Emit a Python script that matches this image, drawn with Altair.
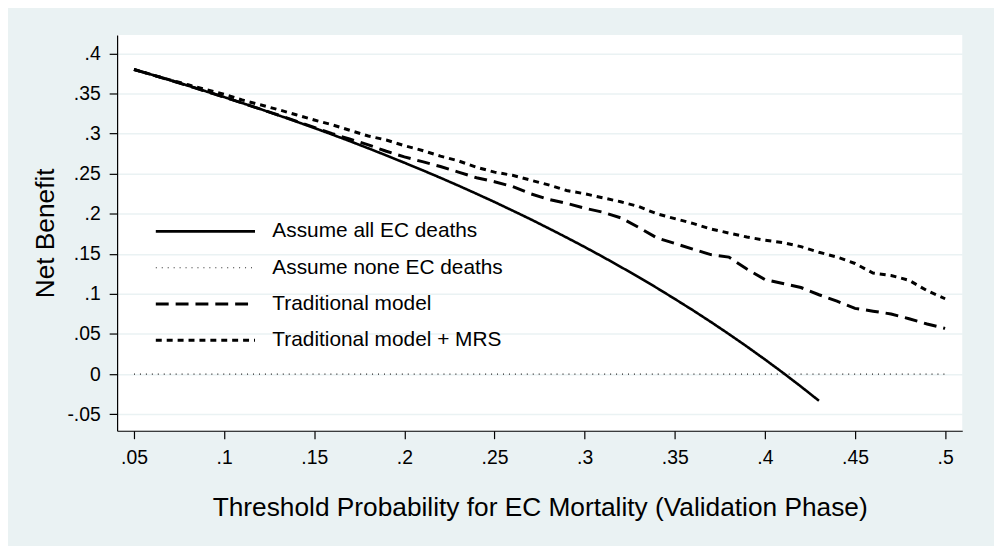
import altair as alt
import pandas as pd

# Threshold probabilities (x)
thresholds = [0.05, 0.06, 0.07, 0.08, 0.09, 0.10, 0.11, 0.12, 0.13, 0.14,
              0.15, 0.16, 0.17, 0.18, 0.19, 0.20, 0.21, 0.22, 0.23, 0.24,
              0.25, 0.26, 0.27, 0.28, 0.29, 0.30, 0.31, 0.32, 0.33, 0.34,
              0.35, 0.36, 0.37, 0.38, 0.39, 0.40, 0.41, 0.42, 0.43, 0.44,
              0.45, 0.46, 0.47, 0.48, 0.49, 0.50]

# Net benefit: assume all EC deaths (ends at .43)
nb_all = [0.380, 0.3734, 0.3667, 0.3598, 0.3527, 0.3456, 0.3382, 0.3307, 0.3230, 0.3151,
          0.3071, 0.2988, 0.2904, 0.2817, 0.2728, 0.2637, 0.2544, 0.2449, 0.2351, 0.2250,
          0.2147, 0.2040, 0.1932, 0.1819, 0.1704, 0.1586, 0.1464, 0.1338, 0.1209, 0.1076,
          0.0938, 0.0797, 0.0651, 0.0500, 0.0344, 0.0183, 0.0017, -0.0155, -0.0333]

# Net benefit: assume none
nb_none = [0.0] * len(thresholds)

# Net benefit: traditional model
nb_trad = [0.380, 0.3734, 0.3667, 0.3598, 0.3527, 0.3456, 0.3382, 0.3307, 0.3232, 0.3155,
           0.3078, 0.300, 0.293, 0.286, 0.278, 0.271, 0.265, 0.259, 0.252, 0.245,
           0.240, 0.234, 0.225, 0.218, 0.213, 0.207, 0.202, 0.195, 0.183, 0.170,
           0.163, 0.156, 0.149, 0.146, 0.131, 0.118, 0.113, 0.108, 0.099, 0.091,
           0.082, 0.0785, 0.075, 0.069, 0.0625, 0.057]

# Net benefit: traditional model + MRS
nb_mrs = [0.380, 0.3735, 0.367, 0.361, 0.355, 0.349, 0.342, 0.336, 0.330, 0.3235,
          0.317, 0.311, 0.304, 0.297, 0.292, 0.285, 0.279, 0.272, 0.266, 0.258,
          0.252, 0.248, 0.242, 0.236, 0.229, 0.225, 0.220, 0.215, 0.209, 0.200,
          0.194, 0.188, 0.181, 0.176, 0.171, 0.167, 0.164, 0.159, 0.152, 0.146,
          0.138, 0.126, 0.123, 0.117, 0.104, 0.094]

series_names = ["Assume all EC deaths", "Assume none EC deaths",
                "Traditional model", "Traditional model + MRS"]

x_ticks = [0.05, 0.1, 0.15, 0.2, 0.25, 0.3, 0.35, 0.4, 0.45, 0.5]
y_ticks = [-0.05, 0, 0.05, 0.1, 0.15, 0.2, 0.25, 0.3, 0.35, 0.4]

rows = []
for name, vals in zip(series_names, [nb_all, nb_none, nb_trad, nb_mrs]):
    for i, v in enumerate(vals):
        rows.append({"series": name, "order": i, "x": thresholds[i], "y": v})
df = pd.DataFrame(rows)

FONT = "Liberation Sans"
BG = "#eaf2f3"

legend = alt.Legend(
    orient="none", legendX=37.5, legendY=180, symbolType="stroke",
    symbolSize=10000, labelFontSize=21, labelFont=FONT, labelColor="black",
    labelOffset=16, rowPadding=0.6, clipHeight=36, padding=0, labelLimit=400,
)

lbl = "datum.value == 0 ? '0' : (datum.value < 0 ? '-' : '') + substring(format(abs(datum.value), '.2~f'), 1)"

chart = alt.Chart(df).mark_line(clip=False).encode(
    x=alt.X("x:Q",
            scale=alt.Scale(domain=[0.04064, 0.5095], nice=False, zero=False),
            axis=alt.Axis(values=x_ticks, labelExpr=lbl, grid=False,
                          title="Threshold Probability for EC Mortality (Validation Phase)",
                          titleFontSize=26.5, titleFont=FONT, titleFontWeight="normal",
                          titleColor="black", titleBaseline="alphabetic", titleY=85,
                          labelFontSize=19.5, labelFont=FONT, labelColor="black",
                          labelBaseline="alphabetic", labelPadding=25,
                          tickSize=8, tickColor="black", tickWidth=1.2,
                          domainColor="black", domainWidth=1.2, labelFlush=False)),
    y=alt.Y("y:Q",
            scale=alt.Scale(domain=[-0.0707, 0.4231], nice=False, zero=False),
            axis=alt.Axis(values=y_ticks, labelExpr=lbl, grid=True,
                          gridColor=BG, gridWidth=1.5,
                          title="Net Benefit",
                          titleFontSize=26.5, titleFont=FONT, titleFontWeight="normal",
                          titleColor="black", titleX=-72, titleY=199.5,
                          titleAngle=270, titleBaseline="middle", titleAlign="center",
                          labelFontSize=19.5, labelFont=FONT, labelColor="black",
                          labelPadding=9, labelBaseline="middle",
                          tickSize=8, tickColor="black", tickWidth=1.2,
                          domainColor="black", domainWidth=1.2, labelFlush=False)),
    color=alt.Color("series:N", title=None,
                    scale=alt.Scale(domain=series_names,
                                    range=["#000000", "#222222", "#000000", "#000000"]),
                    legend=legend),
    strokeDash=alt.StrokeDash("series:N", title=None,
                              scale=alt.Scale(domain=series_names,
                                              range=[[1, 0], [1, 5], [13, 7], [6, 5]]),
                              legend=legend),
    strokeWidth=alt.StrokeWidth("series:N", title=None,
                                scale=alt.Scale(type="ordinal", domain=series_names,
                                                range=[2.6, 1.1, 3, 3]),
                                legend=legend),
    order="order:Q",
).properties(
    width=852, height=399,
    autosize=alt.AutoSizeParams(type="none"),
    padding={"left": 110, "top": 25, "right": 32, "bottom": 114},
    background=BG,
).configure_view(
    fill="white", stroke=None
)

chart.save("out.html", embed_options={"renderer": "svg", "actions": False})
